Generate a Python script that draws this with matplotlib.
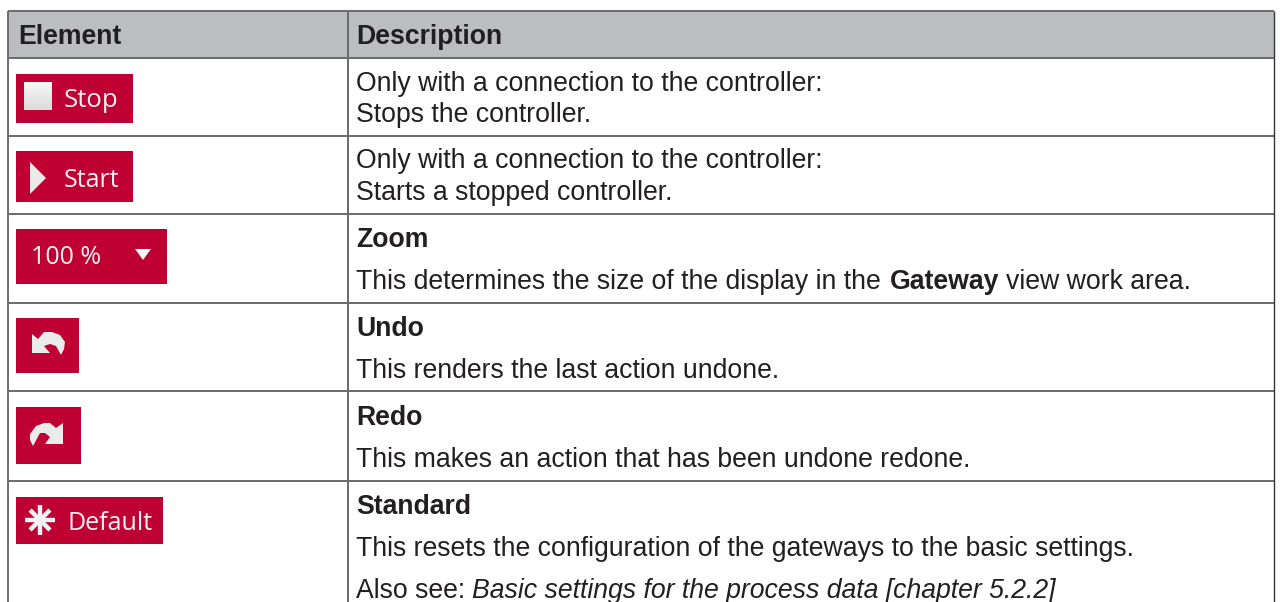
import numpy as np
import matplotlib
matplotlib.use("Agg")
import matplotlib.pyplot as plt
from matplotlib.patches import Rectangle, Polygon

plt.rcParams['font.family'] = ['Liberation Sans', 'DejaVu Sans']

headers = ["Element", "Description"]
row_lines = [58, 136, 214, 303, 391, 481]
buttons = [
    ("Stop", 16, 74, 133, 123),
    ("Start", 16, 151, 133, 202),
    ("100 %", 16, 229, 167, 284),
    ("", 16, 318, 79, 373),
    ("", 16, 407, 81, 464),
    ("Default", 16, 497, 163, 544),
]
desc = [
    (91, "Only with a connection to the controller:", "normal"),
    (121.5, "Stops the controller.", "normal"),
    (168.5, "Only with a connection to the controller:", "normal"),
    (199.5, "Starts a stopped controller.", "normal"),
    (247, "Zoom", "bold"),
    (336, "Undo", "bold"),
    (378, "This renders the last action undone.", "normal"),
    (425, "Redo", "bold"),
    (467, "This makes an action that has been undone redone.", "normal"),
    (514, "Standard", "bold"),
    (556, "This resets the configuration of the gateways to the basic settings.", "normal"),
]
FS = 19.15
RED = "#be0032"
LINE = "#6a6a6a"
INK = "#231f20"
X_TEXT = 356
X_RIGHT = 1274

fig = plt.figure(figsize=(12.8, 6.02), dpi=100)
ax = fig.add_axes([0, 0, 1, 1])
ax.set_xlim(0, 1280)
ax.set_ylim(602, 0)
ax.axis("off")

ax.add_patch(Rectangle((8, 11), X_RIGHT - 8, 47, fc="#bbbdc0", ec="none"))
for y in [11] + row_lines:
    ax.plot([8, X_RIGHT], [y, y], color=LINE, lw=1.4, solid_capstyle="butt")
for x in (8, 348):
    ax.plot([x, x], [11, 602], color=LINE, lw=1.4, solid_capstyle="butt")
ax.plot([X_RIGHT, X_RIGHT], [11, 602], color="#333333", lw=1.0, solid_capstyle="butt")

ax.text(18.5, 43.5, headers[0], fontsize=FS, fontweight="bold", color=INK)
ax.text(X_TEXT, 43.5, headers[1], fontsize=FS, fontweight="bold", color=INK)

for y, s, w in desc:
    ax.text(X_TEXT, y, s, fontsize=FS, fontweight=w, color=INK)

# mixed-weight lines
fig.canvas.draw()
r = fig.canvas.get_renderer()
def end(t):
    return t.get_window_extent(r).x1
t = ax.text(X_TEXT, 289, "This determines the size of the display in the", fontsize=FS, color=INK)
t = ax.text(end(t) + 9, 289, "Gateway", fontsize=FS, fontweight="bold", color=INK)
ax.text(end(t) + 7, 289, "view work area.", fontsize=FS, color=INK)
t = ax.text(X_TEXT, 597.5, "Also see:", fontsize=FS, color=INK)
ax.text(end(t) + 7, 597.5, "Basic settings for the process data [chapter 5.2.2]", fontsize=FS, style="italic", color=INK)

for label, x0, y0, x1, y1 in buttons:
    ax.add_patch(Rectangle((x0, y0), x1 - x0, y1 - y0, fc=RED, ec="none"))
    if label:
        xt, yt, fs = {"Stop": (64, 107, 18.5), "Start": (64, 187, 18), "100 %": (31, 264, 18), "Default": (67, 530, 18)}[label]
        ax.text(xt, yt, label, fontsize=fs, color="#fdf0f2", family=["Open Sans", "DejaVu Sans"])

# button glyphs
grad = np.linspace(0.97, 0.86, 32).reshape(-1, 1)
ax.imshow(grad, extent=(24, 52, 110, 82), cmap="gray", vmin=0, vmax=1, aspect="auto", zorder=3)
ax.set_xlim(0, 1280)
ax.set_ylim(602, 0)
ax.add_patch(Polygon([(30, 162), (46, 178), (30, 194)], fc="#e9e9e9", ec="none"))
ax.add_patch(Polygon([(135, 249), (151, 249), (143, 260)], fc="#f7f7f7", ec="none"))
ax.add_patch(Polygon([(32, 334), (32, 353), (50, 353), (44, 346), (50, 344), (56, 346), (61, 355), (64, 349), (65, 342), (60, 335),
                      (52, 332), (44, 332), (38, 339)], fc="#ebebeb", ec="none"))
ax.add_patch(Polygon([(63, 423), (63, 444), (45, 444), (50, 437), (45, 433), (40, 433), (33, 446), (30, 440), (30, 434), (36, 426),
                      (44, 423), (50, 423), (56, 428)], fc="#ebebeb", ec="none"))
for dx, dy in [(0, 15), (15, 0), (10, 10), (10, -10)]:
    ax.plot([40 - dx, 40 + dx], [520 - dy, 520 + dy], color="#f2f2f2", lw=3.2, solid_capstyle="butt")

fig.savefig("out.png", dpi=100)
